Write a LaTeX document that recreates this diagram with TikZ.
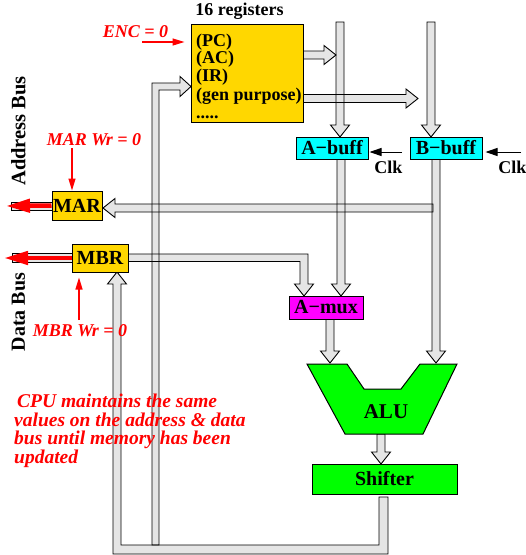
\documentclass[tikz,border=0pt]{standalone}
\usepackage{fontspec}
\setmainfont{Liberation Serif}
\usetikzlibrary{arrows.meta}
\definecolor{gold}{RGB}{255,215,0}
\definecolor{busgray}{RGB}{229,229,229}
\definecolor{bufcyan}{RGB}{0,255,255}
\definecolor{muxmag}{RGB}{255,0,255}
\definecolor{alugreen}{RGB}{0,255,0}
\newcommand{\hbusR}[4]{\path[#1] (#2,#4-4) -- (#3-12,#4-4) -- (#3-12,#4-9.5) -- (#3,#4) -- (#3-12,#4+9.5) -- (#3-12,#4+4) -- (#2,#4+4) -- cycle;}
\newcommand{\hbusL}[4]{\path[#1] (#2,#4-4) -- (#3+12,#4-4) -- (#3+12,#4-9.5) -- (#3,#4) -- (#3+12,#4+9.5) -- (#3+12,#4+4) -- (#2,#4+4) -- cycle;}
\newcommand{\vbusD}[4]{\path[#1] (#2-4,#3) -- (#2-4,#4-12) -- (#2-9.5,#4-12) -- (#2,#4) -- (#2+9.5,#4-12) -- (#2+4,#4-12) -- (#2+4,#3) -- cycle;}
\newcommand{\allbuses}[1]{%
  \hbusR{#1}{303}{336}{55}
  \vbusD{#1}{340}{22}{137}
  \hbusR{#1}{303}{418}{98.5}
  \vbusD{#1}{431}{22}{137}
  \vbusD{#1}{341}{159}{296}
  \vbusD{#1}{436}{159}{363}
  \hbusL{#1}{433}{103}{208}
  \path[#1] (128,254) -- (308,254) -- (308,284) -- (313.5,284) -- (304,296) -- (294.5,284) -- (300,284) -- (300,261.5) -- (128,261.5) -- cycle;
  \vbusD{#1}{330}{319}{363}
  \vbusD{#1}{381}{434}{464}
  \path[#1] (152,545) -- (152,83) -- (180,83) -- (180,76.5) -- (191,86.5) -- (180,96.5) -- (180,90) -- (159,90) -- (159,545) -- cycle;
  \path[#1] (379,497) -- (388,497) -- (388,554) -- (113,554) -- (113,284) -- (107.5,284) -- (117,272) -- (126.5,284) -- (121,284) -- (121,545) -- (379,545) -- cycle;
}
\tikzset{
  busfill/.style={fill=busgray},
  busline/.style={draw=black, line width=0.9pt, line join=miter},
  box/.style={draw=black, line width=1pt, inner sep=0pt, font=\fontsize{20}{22}\selectfont\bfseries},
  lbl/.style={font=\fontsize{18}{20}\selectfont\bfseries, inner sep=0pt},
  redlbl/.style={font=\fontsize{18}{20}\selectfont\bfseries\itshape, text=red, inner sep=0pt},
  redthick/.style={draw=red, line width=4.5pt, -{Triangle[length=24pt,width=13pt]}},
  redthin/.style={draw=red, line width=1.2pt, -{Triangle[length=12pt,width=7pt]}},
  clkarrow/.style={draw=black, line width=1pt, -{Triangle[length=12pt,width=8pt]}},
  graybar/.style={fill=busgray, draw=black, line width=0.9pt}
}
\begin{document}
\begin{tikzpicture}[x=1pt,y=-1pt]
\useasboundingbox (0,0) rectangle (526,555);
% buses
\allbuses{busfill}
\allbuses{busline}
% gray bars to the external buses
\filldraw[graybar] (11,202) rectangle (52,210);
\filldraw[graybar] (12,253.5) rectangle (72,262);
% boxes
\node[box, fill=gold, minimum width=112pt, minimum height=98pt] (regs) at (247,73) {};
\node[box, fill=bufcyan, minimum width=72pt, minimum height=22pt] (abuff) at (332,148) {A−buff};
\node[box, fill=bufcyan, minimum width=72pt, minimum height=22pt] (bbuff) at (446,148) {B−buff};
\node[box, fill=gold, minimum width=50pt, minimum height=29pt] (mar) at (77,205.5) {MAR};
\node[box, fill=gold, minimum width=56pt, minimum height=28pt] (mbr) at (100,258) {MBR};
\node[box, fill=muxmag, minimum width=74pt, minimum height=23pt] (amux) at (326,307.5) {A−mux};
\node[box, fill=alugreen, minimum width=145pt, minimum height=30pt] (shifter) at (384.5,479) {Shifter};
\filldraw[fill=alugreen, draw=black, line width=1pt, line join=miter]
  (307,364) -- (347,364) -- (364,389) -- (401,389) -- (420,364) -- (457,364) -- (423,434) -- (345,434) -- cycle;
\node[lbl, font=\fontsize{21}{22}\selectfont\bfseries] (alu) at (386,411.5) {ALU};
% register texts
\node[lbl, anchor=base] (title) at (239.5,15) {16 registers};
\node[lbl, anchor=base west] (pc) at (196,46) {(PC)};
\node[lbl, anchor=base west] (ac) at (196,63.5) {(AC)};
\node[lbl, anchor=base west] (ir) at (196,81) {(IR)};
\node[lbl, anchor=base west] (gp) at (196,100) {(gen purpose)};
\node[lbl, anchor=base west] (dots) at (196,118) {.....};
% side labels
\node[lbl, font=\fontsize{20.5}{22}\selectfont\bfseries, rotate=90] (addrbus) at (18.5,131) {Address Bus};
\node[lbl, font=\fontsize{20}{22}\selectfont\bfseries, rotate=90] (databus) at (18.5,312) {Data Bus};
% clock labels
\node[lbl, anchor=base] (clka) at (388.5,173) {Clk};
\node[lbl, anchor=base] (clkb) at (512.5,173) {Clk};
% red labels
\node[redlbl, anchor=base] (enc) at (135.5,37) {ENC = 0};
\node[redlbl, anchor=base] (marwr) at (94,145) {MAR Wr = 0};
\node[redlbl, anchor=base] (mbrwr) at (80,336) {MBR Wr = 0};
\node[redlbl, anchor=north west, align=left, font=\fontsize{19.5}{18.5}\selectfont\bfseries\itshape] (note) at (14,394)
  {\hspace*{3pt}CPU maintains the same\\values on the address \& data\\bus until memory has been\\updated};
% arrows
\coordinate (encstart) at (142,42);
\coordinate (marwrstart) at (72,148);
\coordinate (mbrwrstart) at (79,320);
\coordinate (clkastart) at (402,152);
\coordinate (clkbstart) at (521,152);
\coordinate (marout) at (6,206);
\coordinate (mbrout) at (4,258);
\draw[redthin, shorten >=6pt] (encstart) -- (regs.west |- encstart);
\draw[redthin] (marwrstart) -- (mar.north -| marwrstart);
\draw[redthin, shorten >=5pt] (mbrwrstart) -- (mbr.south -| mbrwrstart);
\draw[clkarrow, shorten >=1pt] (clkastart) -- (abuff.east |- clkastart);
\draw[clkarrow, shorten >=3pt] (clkbstart) -- (bbuff.east |- clkbstart);
\draw[redthick] (mar.west) -- (marout);
\draw[redthick] (mbr.west) -- (mbrout);
\end{tikzpicture}
\end{document}
